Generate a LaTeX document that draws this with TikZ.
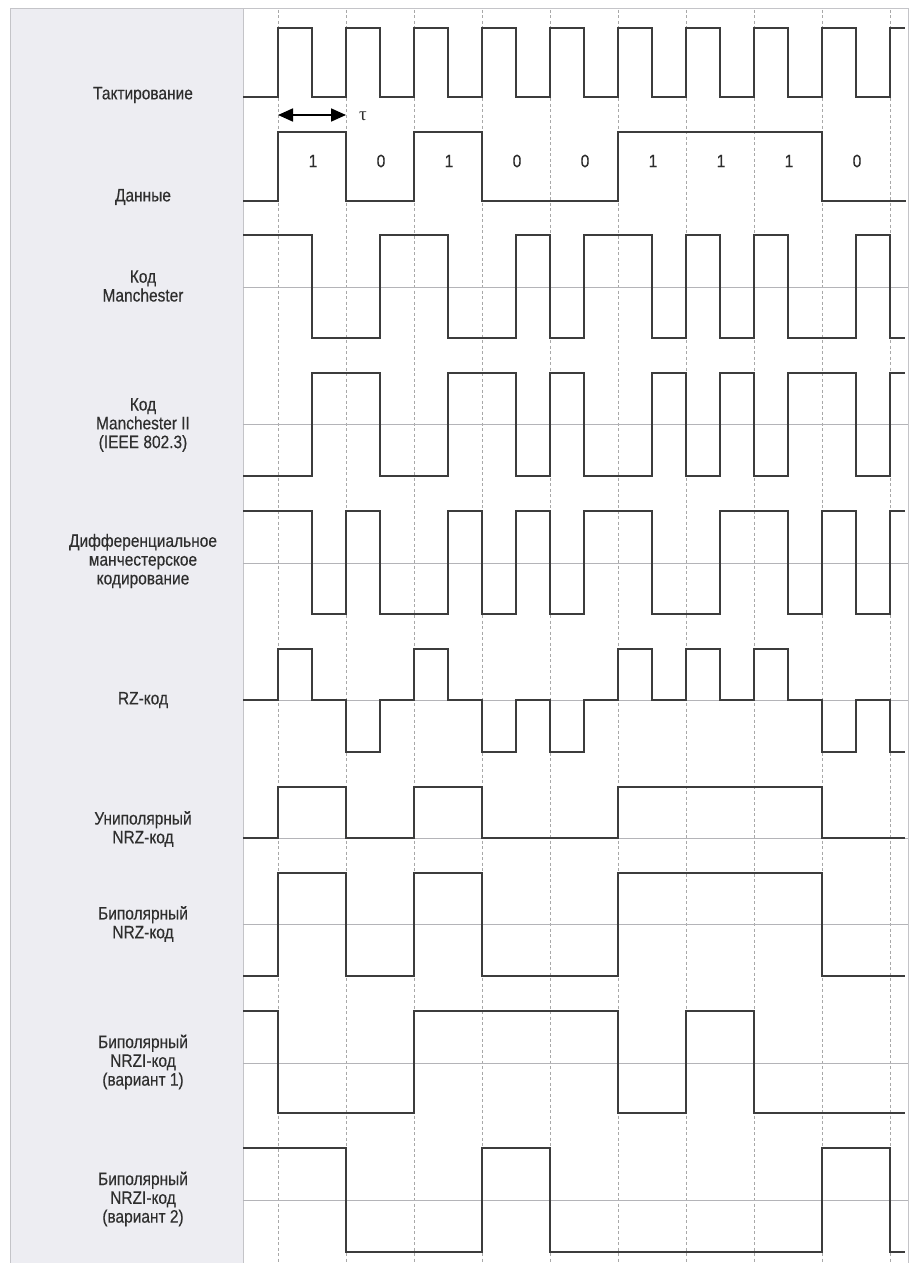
\documentclass[tikz,border=0pt]{standalone}
\usepackage{fontspec}
\usetikzlibrary{arrows.meta}
\newfontfamily\lblfont{Liberation Sans}[FakeStretch=0.86,FakeBold=0.4]
\newfontfamily\taufont{Liberation Serif}
\definecolor{panel}{HTML}{EDEDF2}
\definecolor{frame}{HTML}{C4C4C8}
\definecolor{wavec}{HTML}{3C3C3C}
\definecolor{gridc}{HTML}{A8A8A8}
\definecolor{midc}{HTML}{B4B4B8}
\definecolor{txt}{HTML}{2E2E2E}
\tikzset{
  wave/.style={draw=wavec, line width=1.8pt, line join=miter},
  gridline/.style={draw=gridc, line width=1pt, dash pattern=on 3pt off 2.5pt},
  midline/.style={draw=midc, line width=1pt},
  framel/.style={draw=frame, line width=1pt},
  lbl/.style={font=\lblfont\fontsize{18}{18.8}\selectfont, text=txt, align=center, anchor=center, inner sep=0pt},
  bit/.style={font=\lblfont\fontsize{18}{18.8}\selectfont, text=txt, anchor=center, inner sep=0pt},
  tauarrow/.style={draw=black, line width=1.8pt, {Triangle[length=15pt,width=13pt]}-{Triangle[length=15pt,width=13pt]}}
}
\begin{document}
\begin{tikzpicture}[x=1pt,y=-1pt]
\useasboundingbox (0,0) rectangle (915,1263);
% panel and frame
\fill[white] (0,0) rectangle (915,1263);
\fill[panel] (10,9) rectangle (243,1263);
\draw[framel] (10,1263) -- (10,9) -- (908,9) -- (908,1263);
\draw[framel] (243,9) -- (243,1263);
% dashed time grid
\foreach \k in {0,...,9} {
  \draw[gridline] ({278+68*\k},10) -- ({278+68*\k},1263);
}
% mid lines
\foreach \y in {287,424,563,700,838,924,1063,1200} {
  \draw[midline] (243,\y) -- (908,\y);
}
% labels
\node[lbl] (l1) at (143,95) {Тактирование};
\node[lbl] (l2) at (143,197) {Данные};
\node[lbl] (l3) at (143,286) {Код\\Manchester};
\node[lbl] (l4) at (143,425) {Код\\Manchester II\\(IEEE 802.3)};
\node[lbl] (l5) at (143,561) {Дифференциальное\\манчестерское\\кодирование};
\node[lbl] (l6) at (143,700) {RZ-код};
\node[lbl] (l7) at (143,829) {Униполярный\\NRZ-код};
\node[lbl] (l8) at (143,924) {Биполярный\\NRZ-код};
\node[lbl] (l9) at (143,1062) {Биполярный\\NRZI-код\\(вариант 1)};
\node[lbl] (l10) at (143,1199) {Биполярный\\NRZI-код\\(вариант 2)};
% bits
\foreach \b [count=\i from 0] in {1,0,1,0,0,1,1,1,0} {
  \node[bit] (b\i) at ({313+68*\i},161) {\b};
}
% tau arrow
\coordinate (ta) at (278,115);
\coordinate (tb) at (346,115);
\draw[tauarrow] (ta) -- (tb);
\node[font=\taufont\fontsize{19}{19}\selectfont, text=txt, inner sep=0pt] (tau) at (363,116) {τ};
% clock
\draw[wave] (243,97) -| (278,28) -| (312,97) -| (346,28) -| (380,97) -| (414,28) -| (448,97) -| (482,28) -| (516,97) -| (550,28) -| (584,97) -| (618,28) -| (652,97) -| (686,28) -| (720,97) -| (754,28) -| (788,97) -| (822,28) -| (856,97) -| (890,28) -- (905,28);
% data
\draw[wave] (243,201) -| (278,132) -| (346,201) -| (414,132) -| (482,201) -| (618,132) -| (822,201) -- (906,201);
% Manchester
\draw[wave] (243,235) -| (312,338) -| (380,235) -| (448,338) -| (516,235) -| (550,338) -| (584,235) -| (652,338) -| (686,235) -| (720,338) -| (754,235) -| (788,338) -| (856,235) -| (890,338) -- (905,338);
% Manchester II
\draw[wave] (243,476) -| (312,373) -| (380,476) -| (448,373) -| (516,476) -| (550,373) -| (584,476) -| (652,373) -| (686,476) -| (720,373) -| (754,476) -| (788,373) -| (856,476) -| (890,373) -- (905,373);
% differential Manchester
\draw[wave] (243,511) -| (312,614) -| (346,511) -| (380,614) -| (448,511) -| (482,614) -| (516,511) -| (550,614) -| (584,511) -| (652,614) -| (720,511) -| (788,614) -| (822,511) -| (856,614) -| (890,511) -- (905,511);
% RZ
\draw[wave] (243,700) -| (278,649) -| (312,700) -| (346,752) -| (380,700) -| (414,649) -| (448,700) -| (482,752) -| (516,700) -| (550,752) -| (584,700) -| (618,649) -| (652,700) -| (686,649) -| (720,700) -| (754,649) -| (788,700) -| (822,752) -| (856,700) -| (890,752) -- (905,752);
% unipolar NRZ
\draw[wave] (243,838) -| (278,787) -| (346,838) -| (414,787) -| (482,838) -| (618,787) -| (822,838) -- (905,838);
% bipolar NRZ
\draw[wave] (243,976) -| (278,873) -| (346,976) -| (414,873) -| (482,976) -| (618,873) -| (822,976) -- (905,976);
% NRZI v1
\draw[wave] (243,1011) -| (278,1113) -| (414,1011) -| (618,1113) -| (686,1011) -| (754,1113) -- (905,1113);
% NRZI v2
\draw[wave] (243,1148) -| (346,1252) -| (482,1148) -| (550,1252) -| (822,1148) -| (890,1252) -- (905,1252);
\end{tikzpicture}
\end{document}
